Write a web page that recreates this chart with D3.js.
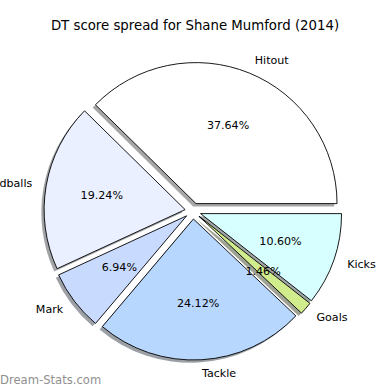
<!DOCTYPE html>
<html>
<head>
<meta charset="utf-8">
<script src="https://cdn.jsdelivr.net/npm/d3@7"></script>
<style>
  body { margin: 0; background: #fff; }
  svg { display: block; font-family: "DejaVu Sans", sans-serif; }
</style>
</head>
<body>
<div id="chart"></div>
<script>
// slice data, counter-clockwise from 3 o'clock (matplotlib order)
let categories = ["Hitout", "Handballs", "Mark", "Tackle", "Goals", "Kicks"];
let shares = [37.64, 19.24, 6.94, 24.12, 1.46, 10.60];
let sliceColors = ["#ffffff", "#eaf0ff", "#c9daff", "#b8d7ff", "#d0ec8d", "#d8ffff"];
let pctLabels = ["37.64%", "19.24%", "6.94%", "24.12%", "1.46%", "10.60%"];

let W = 390, H = 390;
let cx = 193, cy = 211, radius = 141;
let explode = 8;

let svg = d3.select("#chart").append("svg")
  .attr("width", W)
  .attr("height", H);

svg.append("text")
  .attr("x", 195)
  .attr("y", 25)
  .attr("text-anchor", "middle")
  .attr("dominant-baseline", "central")
  .style("font-size", "13.3px")
  .text("DT score spread for Shane Mumford (2014)");

let rows = categories.map((c, i) => ({ name: c, value: shares[i], color: sliceColors[i], pct: pctLabels[i] }));

// start at east, go counter-clockwise
let pie = d3.pie()
  .sort(null)
  .value(d => d.value)
  .startAngle(Math.PI / 2)
  .endAngle(Math.PI / 2 - 2 * Math.PI);

let arcs = pie(rows);
let arc = d3.arc().innerRadius(0).outerRadius(radius);

let mid = a => (a.startAngle + a.endAngle) / 2;
let dir = a => [Math.sin(mid(a)), -Math.cos(mid(a))];
let shift = a => "translate(" + dir(a)[0] * explode + "," + dir(a)[1] * explode + ")";

let g = svg.append("g").attr("transform", "translate(" + cx + "," + cy + ")");

// shadows first, all below wedges
g.selectAll(".shadow")
  .data(arcs)
  .enter().append("path")
  .attr("class", "shadow")
  .attr("d", arc)
  .attr("fill", d => {
    let c = d3.rgb(d.data.color);
    return d3.rgb(c.r * 0.3, c.g * 0.3, c.b * 0.3);
  })
  .attr("fill-opacity", 0.5)
  .attr("transform", d => {
    let v = dir(d);
    return "translate(" + (v[0] * explode - 2.8) + "," + (v[1] * explode + 2.8) + ")";
  });

g.selectAll(".wedge")
  .data(arcs)
  .enter().append("path")
  .attr("class", "wedge")
  .attr("transform", shift)
  .attr("d", arc)
  .attr("fill", d => d.data.color)
  .attr("stroke", "#000")
  .attr("stroke-width", 0.9);

// texts go on top of every wedge
let labels = g.selectAll(".labels")
  .data(arcs)
  .enter().append("g")
  .attr("transform", shift);

// category labels at 1.1 r
labels.append("text")
  .attr("x", d => dir(d)[0] * radius * 1.1)
  .attr("y", d => dir(d)[1] * radius * 1.1)
  .attr("text-anchor", d => dir(d)[0] > 0 ? "start" : "end")
  .attr("dominant-baseline", "central")
  .style("font-size", "11.1px")
  .text(d => d.data.name);

// percentages at 0.6 r
labels.append("text")
  .attr("x", d => dir(d)[0] * radius * 0.6)
  .attr("y", d => dir(d)[1] * radius * 0.6)
  .attr("text-anchor", "middle")
  .attr("dominant-baseline", "central")
  .style("font-size", "11.1px")
  .text(d => d.data.pct);

svg.append("text")
  .attr("x", 0)
  .attr("y", 380)
  .attr("dominant-baseline", "central")
  .style("font-size", "11.6px")
  .attr("fill", "#8f8f8f")
  .text("Dream-Stats.com");
</script>
</body>
</html>
